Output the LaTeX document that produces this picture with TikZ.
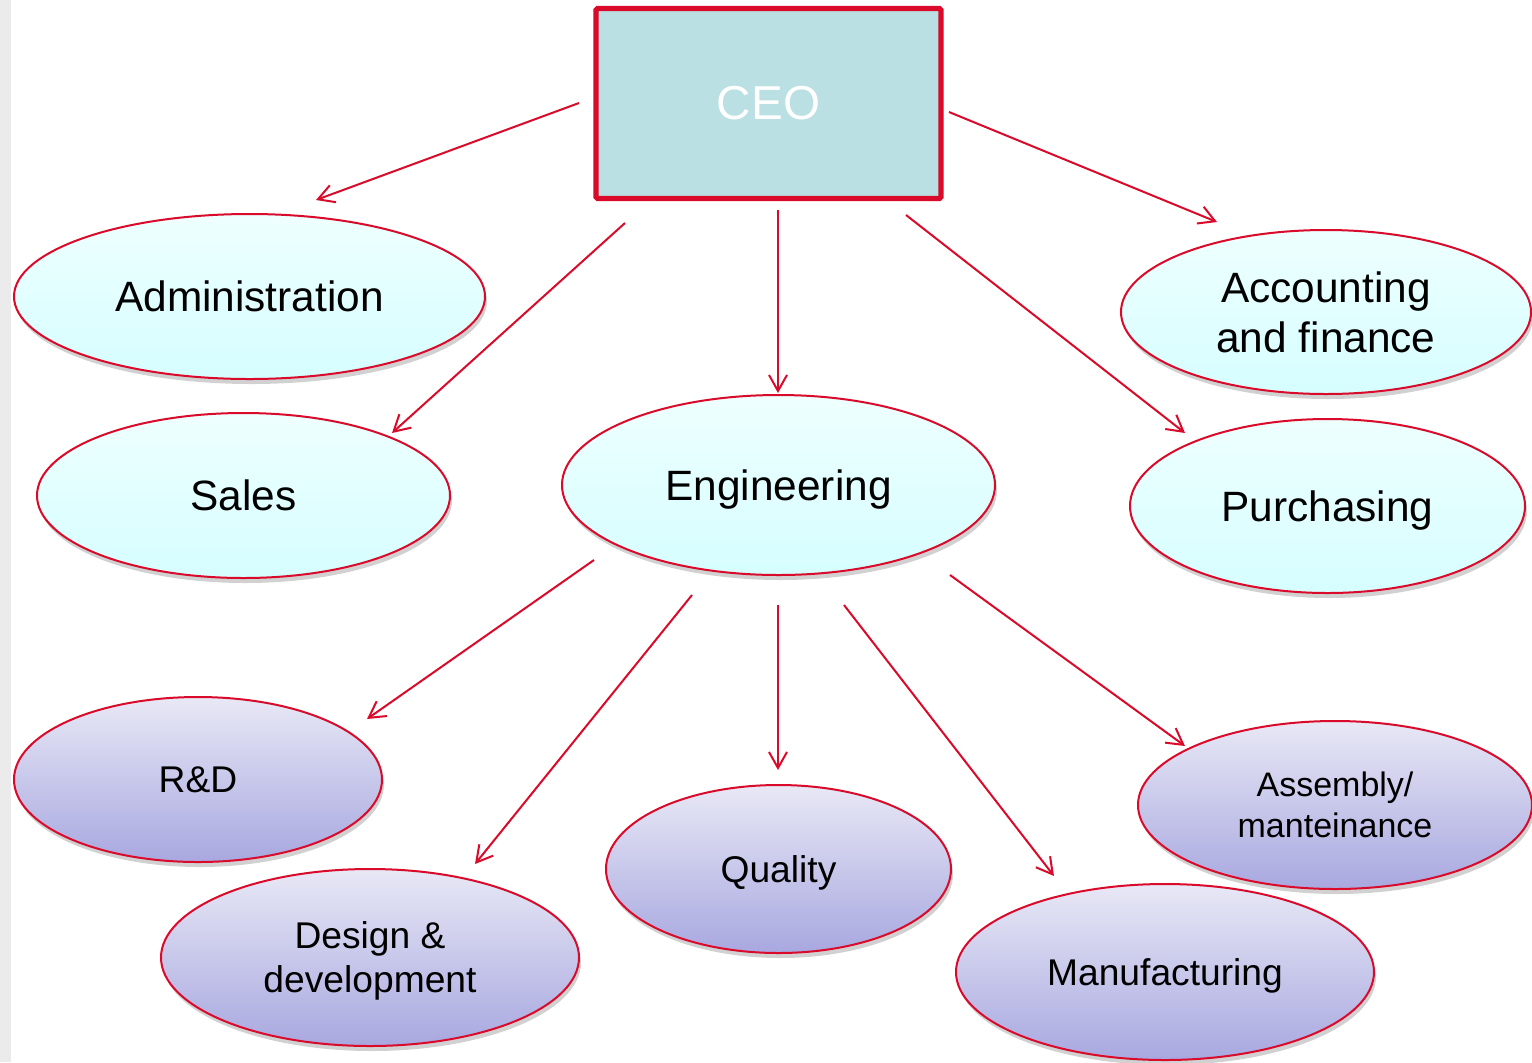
\documentclass[tikz,border=0pt]{standalone}
\usepackage{fontspec}
\setmainfont{Liberation Sans}
\usetikzlibrary{shapes.geometric,arrows.meta,shadows}
\definecolor{redline}{RGB}{218,10,42}
\definecolor{ceofill}{RGB}{186,224,227}
\definecolor{cyantop}{RGB}{238,255,255}
\definecolor{cyanbot}{RGB}{214,254,255}
\definecolor{lavtop}{RGB}{232,232,246}
\definecolor{lavbot}{RGB}{168,168,224}
\tikzset{
  dept/.style={ellipse, draw=redline, line width=1pt, inner sep=0pt, align=center, text depth=0pt,
    drop shadow={shadow xshift=1pt, shadow yshift=-2.5pt, opacity=0.18, fill=black}},
  upper/.style={dept, top color=cyantop, bottom color=cyanbot,
    font=\fontsize{21.2}{25}\selectfont},
  lower/.style={dept, top color=lavtop, bottom color=lavbot,
    font=\fontsize{18.6}{22}\selectfont},
  conn/.style={draw=redline, line width=1pt, -{Straight Barb[length=8pt,width=9pt,line width=1pt]}},
}
\begin{document}
\begin{tikzpicture}[x=0.5pt,y=-0.5pt]
\useasboundingbox (0,0) rectangle (1532,1062);
\fill[white] (0,0) rectangle (1532,1062);
\fill[black!8] (0,0) rectangle (11,1062);
% CEO
\node[draw=redline, line width=2.6pt, fill=ceofill, minimum width=172.5pt, minimum height=95pt,
  inner sep=0pt, text=white, font=\fontsize{23.8}{28}\selectfont, rounded corners=0.8pt] (ceo) at (768.5,103.5) {\raisebox{-1.2pt}{CEO}};
% upper departments
\node[upper, minimum width=235.5pt, minimum height=82.5pt] (admin) at (249.5,296.5) {Administration};
\node[upper, minimum width=206.5pt, minimum height=82.5pt] (sales) at (243.5,495.5) {Sales};
\node[upper, minimum width=216.5pt, minimum height=90pt] (eng) at (778.5,485) {Engineering};
\node[upper, minimum width=205pt, minimum height=82pt] (acc) at (1326,312) {Accounting\\and finance};
\node[upper, minimum width=197.5pt, minimum height=87pt] (pur) at (1327.5,506) {Purchasing};
% lower departments
\node[lower, minimum width=184pt, minimum height=82.5pt] (rd) at (198,779.5) {R\&D};
\node[lower, minimum width=209pt, minimum height=88.5pt] (des) at (370,957.5) {Design \&\\development};
\node[lower, minimum width=172.5pt, minimum height=84pt] (qual) at (778.5,869) {Quality};
\node[lower, minimum width=209pt, minimum height=88pt] (man) at (1165,972) {Manufacturing};
\node[lower, minimum width=197pt, minimum height=84pt, font=\fontsize{17}{20.5}\selectfont] (ass) at (1335,805) {Assembly/\\manteinance};
% connector end points
\coordinate (s1) at (579,103);  \coordinate (e1) at (316,200);
\coordinate (s2) at (625,223);  \coordinate (e2) at (392,433);
\coordinate (s3) at (778,210);  \coordinate (e3) at (778,393);
\coordinate (s4) at (906,215);  \coordinate (e4) at (1185,433);
\coordinate (s5) at (949,112);  \coordinate (e5) at (1217,222);
\coordinate (s6) at (594,560);  \coordinate (e6) at (367,719);
\coordinate (s7) at (692,595);  \coordinate (e7) at (475,864);
\coordinate (s8) at (778,605);  \coordinate (e8) at (778,770);
\coordinate (s9) at (844,605);  \coordinate (e9) at (1054,876);
\coordinate (s10) at (950,575); \coordinate (e10) at (1185,746);
\foreach \i in {1,...,10} { \draw[conn] (s\i) -- (e\i); }
\end{tikzpicture}
\end{document}
